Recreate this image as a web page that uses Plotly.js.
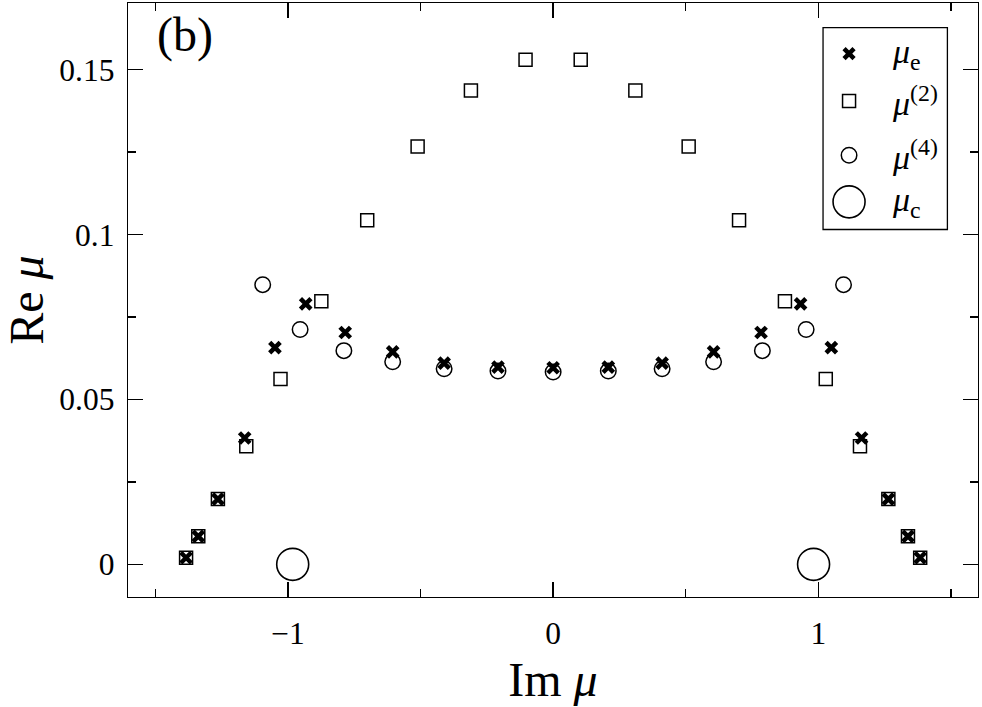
<!DOCTYPE html>
<html>
<head>
<meta charset="utf-8">
<script src="https://cdn.plot.ly/plotly-3.0.1.min.js"></script>
<style>html,body{margin:0;padding:0;background:#fff;}</style>
</head>
<body>
<div id="chart" style="width:982px;height:707px;"></div>
<script>
// μ_e (crosses)
var muE_im = [-1.384, -1.338, -1.264, -1.163, -1.049, -0.933, -0.784, -0.605, -0.411, -0.208, 0,
              0.208, 0.411, 0.605, 0.784, 0.933, 1.049, 1.163, 1.264, 1.338, 1.384];
var muE_re = [0.0020, 0.0085, 0.0198, 0.0383, 0.0657, 0.0790, 0.0703, 0.0644, 0.0610, 0.0598, 0.0596,
              0.0598, 0.0610, 0.0644, 0.0703, 0.0790, 0.0657, 0.0383, 0.0198, 0.0085, 0.0020];
// μ^(2) (squares)
var mu2_im = [-1.384, -1.338, -1.264, -1.157, -1.028, -0.874, -0.701, -0.511, -0.310, -0.104,
              0.104, 0.310, 0.511, 0.701, 0.874, 1.028, 1.157, 1.264, 1.338, 1.384];
var mu2_re = [0.0020, 0.0085, 0.0198, 0.0358, 0.0562, 0.0798, 0.1043, 0.1267, 0.1437, 0.1530,
              0.1530, 0.1437, 0.1267, 0.1043, 0.0798, 0.0562, 0.0358, 0.0198, 0.0085, 0.0020];
// μ^(4) (small circles)
var mu4_im = [-1.095, -0.954, -0.789, -0.605, -0.411, -0.208, 0,
              0.208, 0.411, 0.605, 0.789, 0.954, 1.095];
var mu4_re = [0.0848, 0.0712, 0.0648, 0.0614, 0.0593, 0.0586, 0.0583,
              0.0586, 0.0593, 0.0614, 0.0648, 0.0712, 0.0848];
// μ_c (large circles)
var muC_im = [-0.982, 0.982];
var muC_re = [0, 0];

var xTickVals = [-1, 0, 1];
var xTickText = ['\u22121', '0', '1'];
var yTickVals = [0, 0.05, 0.1, 0.15];
var yTickText = ['0', '0.05', '0.1', '0.15'];

var serif = 'Liberation Serif';
var tickSize = 31.5;

var traces = [
  {x: mu2_im, y: mu2_re, mode: 'markers', type: 'scatter', name: 'mu2',
   marker: {symbol: 'square-open', size: 13, color: '#000', line: {width: 1.5, color: '#000'}}},
  {x: mu4_im, y: mu4_re, mode: 'markers', type: 'scatter', name: 'mu4',
   marker: {symbol: 'circle-open', size: 15.5, color: '#000', line: {width: 1.5, color: '#000'}}},
  {x: muC_im, y: muC_re, mode: 'markers', type: 'scatter', name: 'muc',
   marker: {symbol: 'circle-open', size: 32, color: '#000', line: {width: 1.6, color: '#000'}}},
  {x: muE_im, y: muE_re, mode: 'markers', type: 'scatter', name: 'mue',
   marker: {symbol: 'x-thin', size: 10.5, color: '#000', line: {width: 4.5, color: '#000'}}}
];

var lgX = 0.8483;
var lgYs = [0.9149, 0.8351, 0.7437, 0.6652];
var lgTextX = 0.8961;

var layout = {
  width: 982, height: 707,
  margin: {l: 128, r: 4, t: 3, b: 110},
  paper_bgcolor: '#fff', plot_bgcolor: '#fff',
  showlegend: false,
  font: {family: serif, color: '#000', size: 31},
  xaxis: {
    showline: true, linecolor: '#000', linewidth: 1.3, mirror: 'ticks',
    ticks: 'inside', ticklen: 15, tickwidth: 1.3, tickcolor: '#000',
    showgrid: false, zeroline: false,
    tickfont: {family: serif, size: tickSize, color: '#000'},
    range: [-1.603, 1.602], tickmode: 'array', tickvals: xTickVals, ticktext: xTickText,
    ticklabelstandoff: 8,
    minor: {dtick: 0.5, tick0: 0, ticks: 'inside', ticklen: 8, tickwidth: 1.3, tickcolor: '#000', showgrid: false},
    title: {text: 'Im <i>μ</i>', font: {family: serif, size: 48, color: '#000'}, standoff: 12}
  },
  yaxis: {
    showline: true, linecolor: '#000', linewidth: 1.3, mirror: 'ticks',
    ticks: 'inside', ticklen: 15, tickwidth: 1.3, tickcolor: '#000',
    showgrid: false, zeroline: false,
    tickfont: {family: serif, size: tickSize, color: '#000'},
    range: [-0.0099, 0.1702], tickmode: 'array', tickvals: yTickVals, ticktext: yTickText,
    ticklabelstandoff: 6,
    minor: {dtick: 0.025, tick0: 0, ticks: 'inside', ticklen: 8, tickwidth: 1.3, tickcolor: '#000', showgrid: false},
    title: {text: 'Re <i>μ</i>', font: {family: serif, size: 48, color: '#000'}, standoff: 8}
  },
  shapes: [
    {type: 'rect', xref: 'paper', yref: 'paper', x0: 0.8177, x1: 0.9640, y0: 0.6187, y1: 0.9586,
     line: {color: '#000', width: 1.3}, fillcolor: 'rgba(0,0,0,0)'},
    {type: 'path', xref: 'paper', yref: 'paper', xsizemode: 'pixel', ysizemode: 'pixel',
     xanchor: lgX, yanchor: lgYs[0], path: 'M-5,-5L5,5M-5,5L5,-5', line: {color: '#000', width: 4.5}},
    {type: 'rect', xref: 'paper', yref: 'paper', xsizemode: 'pixel', ysizemode: 'pixel',
     xanchor: lgX, yanchor: lgYs[1], x0: -6.5, x1: 6.5, y0: -6.5, y1: 6.5, line: {color: '#000', width: 1.5}},
    {type: 'circle', xref: 'paper', yref: 'paper', xsizemode: 'pixel', ysizemode: 'pixel',
     xanchor: lgX, yanchor: lgYs[2], x0: -7.75, x1: 7.75, y0: -7.75, y1: 7.75, line: {color: '#000', width: 1.5}},
    {type: 'circle', xref: 'paper', yref: 'paper', xsizemode: 'pixel', ysizemode: 'pixel',
     xanchor: lgX, yanchor: lgYs[3], x0: -16, x1: 16, y0: -16, y1: 16, line: {color: '#000', width: 1.6}}
  ],
  annotations: [
    {xref: 'paper', yref: 'paper', x: 0.0318, y: 0.946, xanchor: 'left', yanchor: 'middle',
     text: '(b)', showarrow: false, font: {family: serif, size: 48, color: '#000'}},
    {xref: 'paper', yref: 'paper', x: lgTextX, y: lgYs[0], xanchor: 'left', yanchor: 'middle',
     text: '<i>μ</i><sub>e</sub>', showarrow: false, font: {family: serif, size: 34, color: '#000'}},
    {xref: 'paper', yref: 'paper', x: lgTextX, y: lgYs[1], xanchor: 'left', yanchor: 'middle',
     text: '<i>μ</i><sup>(2)</sup>', showarrow: false, font: {family: serif, size: 34, color: '#000'}},
    {xref: 'paper', yref: 'paper', x: lgTextX, y: lgYs[2], xanchor: 'left', yanchor: 'middle',
     text: '<i>μ</i><sup>(4)</sup>', showarrow: false, font: {family: serif, size: 34, color: '#000'}},
    {xref: 'paper', yref: 'paper', x: lgTextX, y: lgYs[3], xanchor: 'left', yanchor: 'middle',
     text: '<i>μ</i><sub>c</sub>', showarrow: false, font: {family: serif, size: 34, color: '#000'}}
  ]
};

Plotly.newPlot('chart', traces, layout, {displayModeBar: false, staticPlot: true});
</script>
</body>
</html>
